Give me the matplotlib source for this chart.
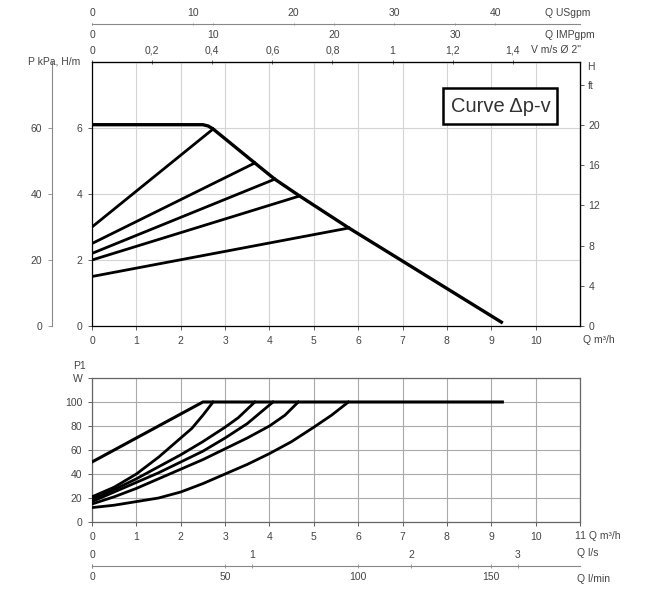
"""
Curva de la bomba (modo delta p-v) y potencia absorbida P1.
"""

import numpy as np
import matplotlib
matplotlib.use('Agg')
import matplotlib.pyplot as plt
from matplotlib.patches import Rectangle

plt.rcParams['font.family'] = ['Liberation Sans', 'DejaVu Sans']
plt.rcParams['font.size'] = 7.5
plt.rcParams['text.color'] = '#444444'
plt.rcParams['xtick.color'] = '#444444'
plt.rcParams['ytick.color'] = '#444444'

# Curva maxima, Q [m3/h] vs H [m]
q_max = [0, 2.5, 2.62, 2.73, 3.67, 4.12, 4.68, 5.79, 6.49, 9.26]
h_max = [6.1, 6.1, 6.06, 5.97, 4.94, 4.45, 3.94, 2.97, 2.39, 0.09]

# Rectas delta p-v (de H/2 a caudal nulo hasta el punto sobre la curva maxima)
h_ini = [3.0, 2.5, 2.2, 2.0, 1.5]
q_fin = [2.73, 3.67, 4.12, 4.68, 5.79]
h_fin = [5.97, 4.94, 4.45, 3.94, 2.97]

# Potencia absorbida P1 [W]
q_p1_max = [0, 2.5, 9.25]
p1_max = [50, 100, 100]
q_p1 = [
    [0, 0.5, 1, 1.5, 2, 2.25, 2.5, 2.73],
    [0, 0.5, 1, 1.5, 2, 2.5, 3, 3.3, 3.67],
    [0, 0.5, 1, 1.5, 2, 2.5, 3, 3.5, 4.08],
    [0, 0.5, 1, 1.5, 2, 2.5, 3, 3.5, 4, 4.35, 4.65],
    [0, 0.5, 1, 1.5, 2, 2.5, 3, 3.5, 4, 4.5, 5, 5.4, 5.78],
]
p1 = [
    [21, 29, 40, 54, 70, 78, 89, 100],
    [19, 27, 36, 46, 56, 67, 79, 87, 100],
    [17, 25, 33, 41, 50, 59, 70, 82, 100],
    [15, 21, 28, 36, 44, 52, 61, 70, 80, 89, 100],
    [12, 14, 17, 20, 25, 32, 40, 48, 57, 67, 79, 89, 100],
]

# Escalas auxiliares
q_ticks = list(range(11))
h_ticks = [0, 2, 4, 6]
kpa_ticks = [0, 20, 40, 60]
ft_ticks = [0, 4, 8, 12, 16, 20, 24]
ft_labels = ['0', '4', '8', '12', '16', '20', 'ft']
v_ticks = [0, 0.2, 0.4, 0.6, 0.8, 1.0, 1.2, 1.4]
v_labels = ['0', '0,2', '0,4', '0,6', '0,8', '1', '1,2', '1,4']
us_ticks = [0, 10, 20, 30, 40]
imp_ticks = [0, 10, 20, 30]
p1_ticks = [0, 20, 40, 60, 80, 100, 120]
p1_labels = ['0', '20', '40', '60', '80', '100', 'W']
ls_labels = ['0', '1', '2', '3']
ls_pos = [0, 3.6, 7.2, 9.6]
lmin_ticks = [0, 50, 100, 150]

# factores de conversion desde m3/h
F_V = 0.1476
F_US = 4.403
F_IMP = 3.666
F_FT = 3.281

W_PX, H_PX = 648, 590
fig = plt.figure(figsize=(W_PX / 100, H_PX / 100), dpi=100)


def fx(px):
    return px / W_PX


def fy(py):
    return 1 - py / H_PX


L = fx(92)
W = fx(580) - fx(92)
axis_gray = '#888888'

# ---------------- Grafica superior ----------------
ax1 = fig.add_axes([L, fy(326), W, (326 - 62) / H_PX])
ax1.set_xlim(0, 11)
ax1.set_ylim(0, 8)
ax1.set_xticks(q_ticks)
ax1.set_yticks(h_ticks)
ax1.grid(True, color='#d4d4d4', lw=0.8)
ax1.tick_params(length=3, pad=4, width=0.6)
for s in ax1.spines.values():
    s.set_linewidth(0.9)

ax1.plot(q_max, h_max, color='k', lw=2.4, solid_capstyle='butt', zorder=3)
for h0, q1, h1 in zip(h_ini, q_fin, h_fin):
    ax1.plot([0, q1], [h0, h1], color='k', lw=2.0, zorder=3)

# eje de velocidad (arriba)
axv = ax1.secondary_xaxis('top', functions=(lambda q: q * F_V, lambda v: v / F_V))
axv.set_xticks(v_ticks, v_labels)
axv.tick_params(length=3, pad=3, width=0.6, direction='inout')

# eje derecho en pies
axft = ax1.secondary_yaxis('right', functions=(lambda h: h * F_FT, lambda f: f / F_FT))
axft.set_yticks(ft_ticks, ft_labels)
axft.tick_params(length=3, pad=3, width=0.6)

# eje exterior en kPa
axk = fig.add_axes([fx(52), fy(326), 0.0001, (326 - 62) / H_PX])
axk.set_ylim(0, 8)
axk.set_yticks(np.array(kpa_ticks) / 10, [str(k) for k in kpa_ticks])
axk.set_xticks([])
for side in ['top', 'right', 'bottom']:
    axk.spines[side].set_visible(False)
axk.spines['left'].set_color(axis_gray)
axk.tick_params(length=3, pad=4, width=0.6, color=axis_gray)

# ejes de caudal en galones
axg = fig.add_axes([L, fy(24), W, 0.0001])
axg.set_xlim(0, 11)
axg.set_yticks([])
for side in ['top', 'right', 'left']:
    axg.spines[side].set_visible(False)
axg.spines['bottom'].set_color(axis_gray)
axg.set_xticks(np.array(imp_ticks) / F_IMP, [str(t) for t in imp_ticks])
axg.tick_params(length=2, pad=3, width=0.6, direction='inout', color=axis_gray)
axus = axg.secondary_xaxis('top', functions=(lambda q: q * F_US, lambda g: g / F_US))
axus.spines['top'].set_visible(False)
axus.set_xticks(us_ticks, [str(t) for t in us_ticks])
axus.tick_params(length=2, pad=3, width=0.6, direction='inout', color=axis_gray)

fig.text(fx(545), fy(13), 'Q USgpm', va='center')
fig.text(fx(545), fy(35), 'Q IMPgpm', va='center')
fig.text(fx(531), fy(50), 'V m/s \u00d8 2"', va='center')
fig.text(fx(80), fy(62), 'P kPa, H/m', ha='right', va='center')
fig.text(fx(587), fy(67), 'H', va='center')
fig.text(fx(583), fy(340), 'Q m\u00b3/h', va='center')

# recuadro con el titulo
fig.patches.append(Rectangle((fx(443), fy(124)), fx(557) - fx(443), fy(88) - fy(124),
                             transform=fig.transFigure, fc='white', ec='k', lw=1.8,
                             zorder=5))
fig.text(fx(501), fy(106), 'Curve \u0394p-v', ha='center', va='center', fontsize=14.5,
         color='#333333', zorder=6)

# ---------------- Grafica inferior ----------------
ax2 = fig.add_axes([L, fy(522), W, (522 - 378) / H_PX])
ax2.set_xlim(0, 11)
ax2.set_ylim(0, 120)
ax2.set_xticks(q_ticks + [11], [str(t) for t in q_ticks] + [''])
ax2.set_yticks(p1_ticks, p1_labels)
ax2.grid(True, color='#aaaaaa', lw=0.8)
ax2.tick_params(length=3, pad=4, width=0.6)
for s in ax2.spines.values():
    s.set_linewidth(0.9)
    s.set_color('#666666')

ax2.plot(q_p1_max, p1_max, color='k', lw=2.2, zorder=3)
for qq, pp in zip(q_p1, p1):
    ax2.plot(qq, pp, color='k', lw=2.0, zorder=3)

fig.text(fx(575), fy(536), '11 Q m\u00b3/h', va='center')
fig.text(fx(79), fy(366), 'P1', ha='center', va='center')

# ejes de caudal en l/s y l/min
axl = fig.add_axes([L, fy(566), W, 0.0001])
axl.set_xlim(0, 11)
axl.set_yticks([])
for side in ['top', 'right', 'left']:
    axl.spines[side].set_visible(False)
axl.spines['bottom'].set_color(axis_gray)
axl.set_xticks(np.array(lmin_ticks) * 0.06, [str(t) for t in lmin_ticks])
axl.tick_params(length=3, pad=3, width=0.6, direction='inout', color=axis_gray)
axls = axl.twiny()
axls.set_xlim(0, 11)
axls.set_yticks([])
for s in axls.spines.values():
    s.set_visible(False)
axls.set_xticks(ls_pos, ls_labels)
axls.tick_params(length=3, pad=3, width=0.6, direction='inout', color=axis_gray)

fig.text(fx(577), fy(553), 'Q l/s', va='center')
fig.text(fx(577), fy(579), 'Q l/min', va='center')

fig.savefig('out.png', dpi=100)
